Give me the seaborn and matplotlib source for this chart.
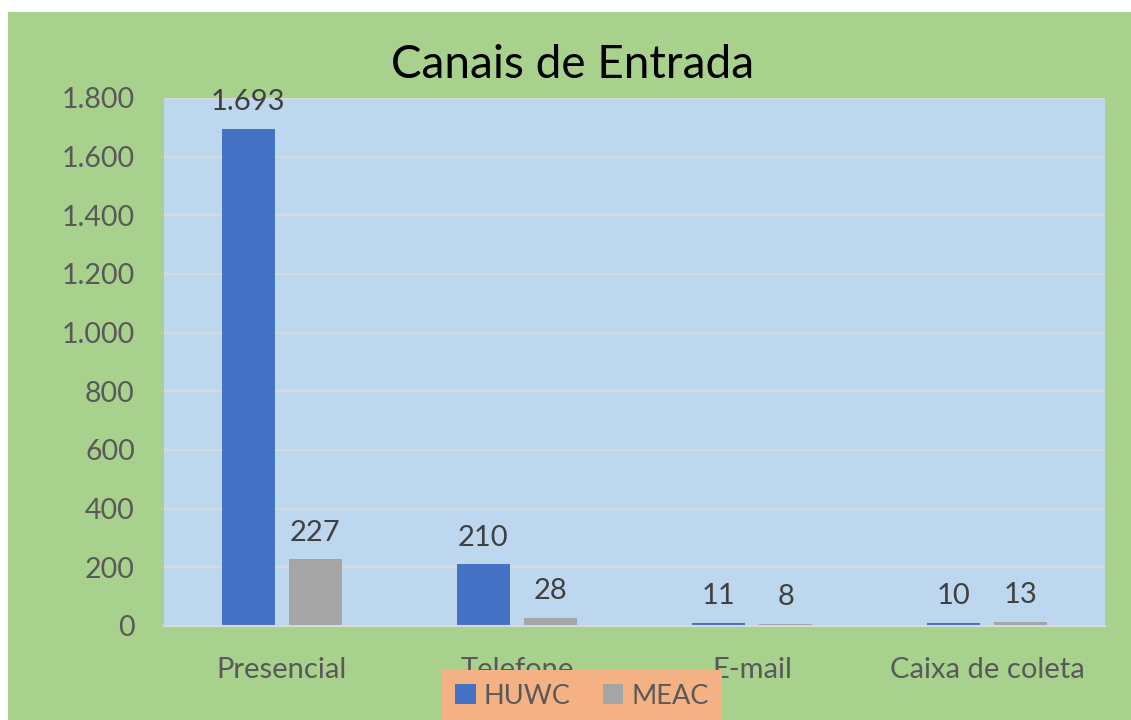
import matplotlib
matplotlib.use("Agg")
import matplotlib.pyplot as plt
from matplotlib.patches import Rectangle
from matplotlib.ticker import FuncFormatter
import seaborn as sns
import pandas as pd

# dados do grafico
canais = ['Presencial', 'Telefone', 'E-mail', 'Caixa de coleta']
huwc = [1693, 210, 11, 10]
meac = [227, 28, 8, 13]
unidades = ['HUWC', 'MEAC']

df = pd.DataFrame({'canal': canais * 2,
                   'valor': huwc + meac,
                   'unidade': [unidades[0]] * len(canais) + [unidades[1]] * len(canais)})

sns.set_style('white')
plt.rcParams['font.family'] = ['Lato', 'DejaVu Sans']
txt = '#595959'

fig = plt.figure(figsize=(11.31, 7.2), dpi=100)
fig.patch.set_facecolor('white')
# fundo verde do grafico
bg = fig.add_axes([8 / 1131, 0, 1 - 8 / 1131, (720 - 12) / 720])
bg.set_facecolor('#A9D18E')
bg.set_xticks([])
bg.set_yticks([])
for s in bg.spines.values():
    s.set_visible(False)

ax = fig.add_axes([164 / 1131, (720 - 626) / 720, (1105 - 164) / 1131, (626 - 98) / 720])
ax.set_facecolor('#BDD7EE')

sns.barplot(data=df, x='canal', y='valor', hue='unidade', ax=ax,
            palette=['#4472C4', '#A5A5A5'], saturation=1, linewidth=0,
            width=0.57, gap=0.21, legend=False)

fmt = lambda v, p=None: f'{int(v):,}'.replace(',', '.')
ax.set_ylim(0, 1800)
ax.set_yticks(range(0, 1801, 200))
ax.yaxis.set_major_formatter(FuncFormatter(fmt))
ax.grid(axis='y', color='#D9D9D9', linewidth=1.5)
ax.set_axisbelow(True)
for s in ['top', 'right', 'left']:
    ax.spines[s].set_visible(False)
ax.spines['bottom'].set_color('#D9D9D9')
ax.spines['bottom'].set_linewidth(1.5)
ax.tick_params(axis='both', length=0, labelcolor=txt)
ax.tick_params(axis='y', pad=21, labelsize=20.5)
ax.tick_params(axis='x', pad=22, labelsize=21)
ax.set_xlabel('')
ax.set_ylabel('')

for cont in ax.containers:
    ax.bar_label(cont, labels=[fmt(v) for v in cont.datavalues], padding=10,
                 fontsize=21, color='#404040')

fig.text(573 / 1131, 1 - 65 / 720, 'Canais de Entrada', ha='center', va='center',
         fontsize=33, color='black')

handles = [Rectangle((0, 0), 1, 1, facecolor=c, linewidth=0) for c in ['#4472C4', '#A5A5A5']]
leg = fig.legend(handles, unidades, loc='center', bbox_to_anchor=(582 / 1131, 24 / 720),
                 ncol=2, frameon=True, facecolor='#F4B183', edgecolor='none', fancybox=False,
                 fontsize=19.5, handlelength=0.75, handleheight=0.75, handletextpad=0.3,
                 columnspacing=1.2, borderpad=0.5, borderaxespad=0)
leg.get_frame().set_alpha(1)
for t in leg.get_texts():
    t.set_color(txt)

fig.savefig('out.png', dpi=100)
